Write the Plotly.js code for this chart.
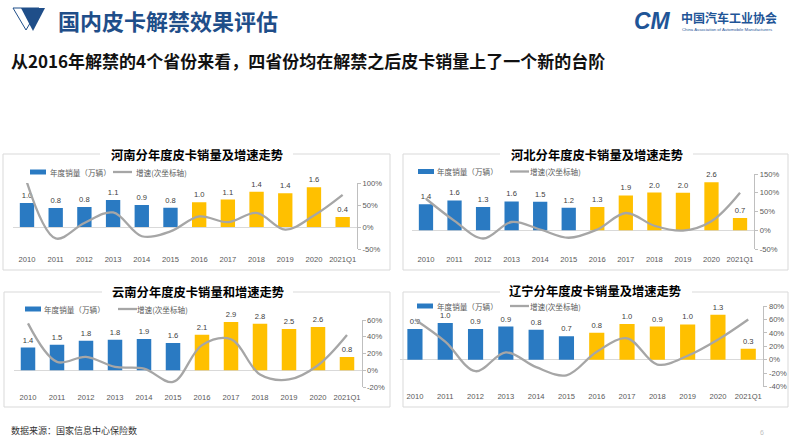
<!DOCTYPE html>
<html><head><meta charset="utf-8">
<script src="https://cdn.plot.ly/plotly-3.0.1.min.js"></script>
<style>html,body{margin:0;padding:0;background:#fff}#chart{width:800px;height:441px}</style>
</head><body><div id="chart"></div>
<script>
// ---------- DATA ----------
const categories = ['2010','2011','2012','2013','2014','2015','2016','2017','2018','2019','2020','2021Q1'];
// annual pickup sales (10k units)
const henanSales    = [0.98,0.78,0.82,1.10,0.90,0.79,1.01,1.12,1.44,1.38,1.62,0.41];
const hebeiSales    = [1.40,1.61,1.26,1.56,1.54,1.21,1.26,1.88,2.04,2.03,2.60,0.66];
const yunnanSales   = [1.37,1.54,1.77,1.84,1.89,1.64,2.14,2.90,2.80,2.48,2.60,0.80];
const liaoningSales = [0.86,1.03,0.86,0.93,0.84,0.66,0.76,1.00,0.93,0.99,1.26,0.31];
// growth rate (%), secondary axis
const henanGrowth    = [101,-26,9,33,-21,-10,24,11,32,-6,26,73];
const hebeiGrowth    = [84,25,-22,22,2,-20,2,46,12,-1,24,100];
const yunnanGrowth   = [56,10,16,4,2,-14,30,37,-5,-11,6,42];
const liaoningGrowth = [60,27,-17,11,-11,-23,12,32,-7,6,30,60];
// secondary axis tick values
const henanTicks    = [-50,0,50,100];
const hebeiTicks    = [-50,0,50,100,150];
const yunnanTicks   = [-20,0,20,40,60];
const liaoningTicks = [-40,-20,0,20,40,60,80];
const unlockIndex = 6; // 2016: unlock year
const salesName  = '年度销量（万辆）';
const growthName = '增速(次坐标轴)';

// ---------- LAYOUT HELPERS ----------
const W = 800, H = 441;
const px = x => x / W, py = y => 1 - y / H;
const CJK = '"Noto Sans CJK SC", "Liberation Sans", Arial, sans-serif';
const NUM = 'Arial, "Liberation Sans", "Noto Sans CJK SC", sans-serif';
const BLUE = '#2A7AC2', YELLOW = '#FFC000', GRAY = '#A6A6A6';

const panels = [
  {title:'河南分年度皮卡销量及增速走势', sales:henanSales, growth:henanGrowth, ticks:henanTicks,
   xd:[12.65,357], yd:[183,249], unit:24.5, box:[3,154,390,270], gap:[100,293], tc:197, ty:155,
   leg:{rx:30, y:172, t1:48, lx:113, t2:134}},
  {title:'河北分年度皮卡销量及增速走势', sales:hebeiSales, growth:hebeiGrowth, ticks:hebeiTicks,
   xd:[411.7,754.3], yd:[174,249], unit:18.5, box:[403,154,788,270], gap:[500,693], tc:597, ty:154.5,
   leg:{rx:418, y:171.5, t1:435, lx:510, t2:528}},
  {title:'云南分年度皮卡销量和增速走势', sales:yunnanSales, growth:yunnanGrowth, ticks:yunnanTicks,
   xd:[13.5,361.5], yd:[320,387], unit:16.6, box:[4,292,390,407], gap:[102,293], tc:198, ty:292,
   leg:{rx:25, y:309, t1:42, lx:118, t2:135}},
  {title:'辽宁分年度皮卡销量及增速走势', sales:liaoningSales, growth:liaoningGrowth, ticks:liaoningTicks,
   xd:[399.8,763.4], yd:[306,386.7], unit:35.7, box:[403,292,788,407], gap:[500,692], tc:595, ty:291,
   leg:{rx:417, y:306, t1:435, lx:510, t2:528}}
];

const data = [];
const layout = {
  width: W, height: H, margin:{l:0,r:0,t:0,b:0},
  paper_bgcolor:'#fff', plot_bgcolor:'rgba(0,0,0,0)',
  showlegend:false, bargap:0.5,
  font:{family:NUM, color:'#595959'},
  shapes:[], annotations:[]
};

panels.forEach((p, i) => {
  const xn = i === 0 ? '' : String(i + 1);
  const y1n = String(2 * i + 1), y2n = String(2 * i + 2);
  const yA = y1n === '1' ? 'y' : 'y' + y1n;
  const yB = 'y' + y2n;
  const xA = 'x' + xn;
  const y2min = p.ticks[0], y2max = p.ticks[p.ticks.length - 1];
  const top = p.yd[0], bot = p.yd[1];
  const z = bot - (0 - y2min) / (y2max - y2min) * (bot - top);
  const yr = [-(bot - z) / p.unit, (z - top) / p.unit];

  data.push({
    type:'bar', x:categories, y:p.sales, xaxis:xA, yaxis:yA, name:salesName,
    marker:{color:categories.map((c, k) => k < unlockIndex ? BLUE : YELLOW)},
    texttemplate:'%{y:.1f}', textposition:'outside', cliponaxis:false, constraintext:'none',
    textfont:{size:7.6, color:'#404040', family:NUM}, hoverinfo:'skip'
  });
  data.push({
    type:'scatter', mode:'lines', x:categories, y:p.growth, xaxis:xA, yaxis:yB, name:growthName,
    line:{shape:'spline', smoothing:1, color:GRAY, width:2.3}, cliponaxis:false, hoverinfo:'skip'
  });

  layout['xaxis' + xn] = {
    type:'category', domain:[px(p.xd[0]), px(p.xd[1])], anchor:yA, range:[-0.5, 11.5],
    showgrid:false, zeroline:false, showline:false, ticks:'', ticklabelstandoff:4,
    tickfont:{size:7.6, color:'#595959', family:NUM}, fixedrange:true
  };
  layout['yaxis' + y1n] = {
    domain:[py(bot), py(top)], anchor:xA, range:yr, showgrid:false, zeroline:false,
    showline:false, showticklabels:false, ticks:'', fixedrange:true
  };
  layout['yaxis' + y2n] = {
    domain:[py(bot), py(top)], anchor:xA, overlaying:yA, side:'right', range:[y2min, y2max],
    tickvals:p.ticks, ticktext:p.ticks.map(v => v + '%'),
    showgrid:false, zeroline:true, zerolinecolor:'#D9D9D9', zerolinewidth:1,
    showline:true, linecolor:'#BFBFBF', linewidth:1, ticks:'outside', ticklen:3, tickcolor:'#BFBFBF',
    tickfont:{size:7.6, color:'#595959', family:NUM}, fixedrange:true
  };

  // panel frame
  const b = p.box;
  layout.shapes.push({type:'rect', xref:'paper', yref:'paper', x0:px(b[0]), x1:px(b[2]), y0:py(b[3]), y1:py(b[1]),
    line:{color:'#D9D9D9', width:1}, fillcolor:'rgba(0,0,0,0)', layer:'below'});
  layout.shapes.push({type:'rect', xref:'paper', yref:'paper', x0:px(p.gap[0]), x1:px(p.gap[1]), y0:py(b[1] + 4), y1:py(b[1] - 4),
    line:{width:0}, fillcolor:'#fff', layer:'below'});
  layout.annotations.push({xref:'paper', yref:'paper', x:px(p.tc), y:py(p.ty), xanchor:'center', yanchor:'middle',
    text:'<b>' + p.title + '</b>', showarrow:false, font:{family:CJK, size:12.3, color:'#000'}});

  // legend
  const L = p.leg;
  layout.shapes.push({type:'rect', xref:'paper', yref:'paper', x0:px(L.rx), x1:px(L.rx + 16), y0:py(L.y + 2.5), y1:py(L.y - 2.5),
    line:{width:0}, fillcolor:BLUE});
  layout.shapes.push({type:'line', xref:'paper', yref:'paper', x0:px(L.lx), x1:px(L.lx + 19), y0:py(L.y), y1:py(L.y),
    line:{color:GRAY, width:2.3}});
  layout.annotations.push({xref:'paper', yref:'paper', x:px(L.t1), y:py(L.y), xanchor:'left', yanchor:'middle',
    text:salesName, showarrow:false, font:{family:CJK, size:7.6, color:'#595959'}});
  layout.annotations.push({xref:'paper', yref:'paper', x:px(L.t2), y:py(L.y), xanchor:'left', yanchor:'middle',
    text:growthName, showarrow:false, font:{family:CJK, size:7.6, color:'#595959'}});
});

// page header
const pathPx = pts => pts.map((q, k) => (k ? 'L' : 'M') + px(q[0]) + ',' + py(q[1])).join(' ') + ' Z';
layout.shapes.push({type:'path', xref:'paper', yref:'paper', path:pathPx([[13,8],[39,8],[26,30]]),
  line:{color:'#1F4E89', width:1}, fillcolor:'#fff'});
layout.shapes.push({type:'path', xref:'paper', yref:'paper', path:pathPx([[21,8],[45,8],[33,31]]),
  line:{width:0}, fillcolor:'#1F4E89'});
layout.annotations.push({xref:'paper', yref:'paper', x:px(56), y:py(20), xanchor:'left', yanchor:'middle',
  text:'<b>国内皮卡解禁效果评估</b>', showarrow:false, font:{family:CJK, size:22, color:'#1F4E89'}});
layout.annotations.push({xref:'paper', yref:'paper', x:px(9), y:py(61), xanchor:'left', yanchor:'middle',
  text:'<b>从2016年解禁的4个省份来看，四省份均在解禁之后皮卡销量上了一个新的台阶</b>', showarrow:false,
  font:{family:CJK, size:17, color:'#111'}});
// logo
layout.annotations.push({xref:'paper', yref:'paper', x:px(632), y:py(21), xanchor:'left', yanchor:'middle',
  text:'<b><i>CM</i></b>', showarrow:false, font:{family:NUM, size:23, color:'#1F5597'}});
layout.annotations.push({xref:'paper', yref:'paper', x:px(679), y:py(17), xanchor:'left', yanchor:'middle',
  text:'<b>中国汽车工业协会</b>', showarrow:false, font:{family:CJK, size:12, color:'#1F5597'}});
layout.annotations.push({xref:'paper', yref:'paper', x:px(680), y:py(29), xanchor:'left', yanchor:'middle',
  text:'China Association of Automobile Manufacturers', showarrow:false, font:{family:NUM, size:4.3, color:'#1F5597'}});
// footer
layout.annotations.push({xref:'paper', yref:'paper', x:px(9), y:py(430), xanchor:'left', yanchor:'middle',
  text:'数据来源：国家信息中心保险数', showarrow:false, font:{family:CJK, size:9, color:'#333'}});
layout.annotations.push({xref:'paper', yref:'paper', x:px(762), y:py(432), xanchor:'center', yanchor:'middle',
  text:'6', showarrow:false, font:{family:NUM, size:7, color:'#BFBFBF'}});

Plotly.newPlot('chart', data, layout, {staticPlot:true, displayModeBar:false});
</script></body></html>
